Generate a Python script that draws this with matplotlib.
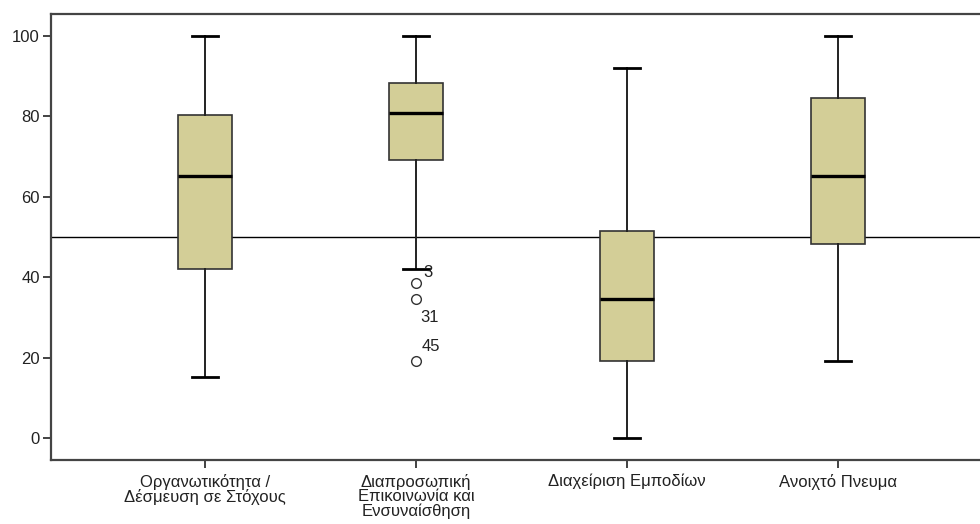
import matplotlib.pyplot as plt

plt.rcParams['font.family'] = ['Liberation Sans', 'DejaVu Sans']

labels = ["Οργανωτικότητα /\nΔέσμευση σε Στόχους",
          "Διαπροσωπική\nΕπικοινωνία και\nΕνσυναίσθηση",
          "Διαχείριση Εμποδίων",
          "Ανοιχτό Πνευμα"]
whis_lo = [15.2, 42.0, 0.0, 19.2]
q1 = [42.0, 69.2, 19.2, 48.3]
med = [65.2, 80.8, 34.6, 65.2]
q3 = [80.3, 88.3, 51.5, 84.6]
whis_hi = [100.0, 100.0, 92.0, 100.0]
fliers = [[], [38.6, 34.6, 19.2], [], []]
flier_ids = [[], ["3", "31", "45"], [], []]
# label offsets in points (dx, dy) from each outlier
flier_off = [[], [(5, 4), (3, -17), (4, 7)], [], []]
ref_line = 50

fig = plt.figure(figsize=(9.8, 5.24), dpi=100)
ax = fig.add_axes([51/980, 1 - 460/524, (992 - 51)/980, (460 - 14)/524])

stats = []
for i in range(len(labels)):
    stats.append({"whislo": whis_lo[i], "q1": q1[i], "med": med[i], "q3": q3[i],
                  "whishi": whis_hi[i], "fliers": fliers[i]})

pos = [1, 2, 3, 4]
ax.bxp(stats, positions=pos, widths=0.255, patch_artist=True,
       boxprops=dict(facecolor="#d3ce97", edgecolor="#333333", linewidth=1.2),
       medianprops=dict(color="black", linewidth=2.4),
       whiskerprops=dict(color="#222222", linewidth=1.4),
       capprops=dict(color="black", linewidth=2.0),
       capwidths=0.12,
       flierprops=dict(marker="o", markerfacecolor="white", markeredgecolor="#333333",
                       markersize=7, markeredgewidth=1.0))

for i in range(len(labels)):
    for v, t, off in zip(fliers[i], flier_ids[i], flier_off[i]):
        ax.annotate(t, (pos[i], v), xytext=off, textcoords="offset points",
                    fontsize=12, color="#222222")

ax.axhline(ref_line, color="black", linewidth=1.0, zorder=0)

ax.set_ylim(-5.5, 105.5)
ax.set_xlim(1 - 154/211, 4 + 154/211)
ax.set_yticks([0, 20, 40, 60, 80, 100])
ax.set_xticks(pos)
ax.set_xticklabels(labels, fontsize=12, linespacing=0.95)
ax.tick_params(axis="y", labelsize=12, length=6, width=1.2, colors="#222222", pad=2)
ax.tick_params(axis="x", length=6, width=1.2, colors="#222222", pad=4)
for s in ["left", "bottom", "top"]:
    ax.spines[s].set_color("#444444")
    ax.spines[s].set_linewidth(1.6)
ax.spines["right"].set_visible(False)

fig.savefig("out.png", dpi=100)
